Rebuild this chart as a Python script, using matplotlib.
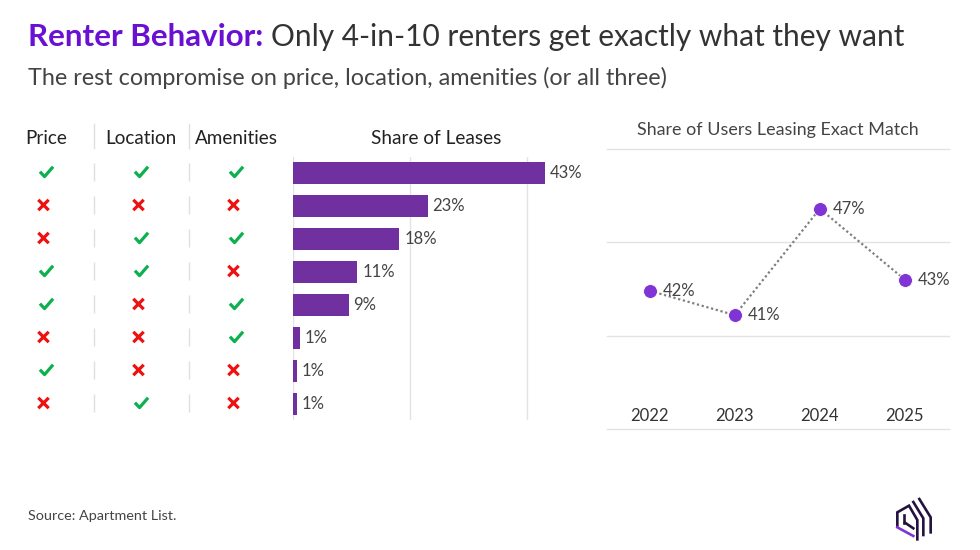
import matplotlib
matplotlib.use("Agg")
import matplotlib.pyplot as plt
from matplotlib.path import Path
from matplotlib.ticker import FixedLocator

plt.rcParams['font.family'] = ['Lato', 'DejaVu Sans']

# Data
criteria = ["Price", "Location", "Amenities"]
price = [1, 0, 0, 1, 1, 0, 1, 0]
location = [1, 0, 1, 1, 0, 0, 0, 1]
amenities = [1, 0, 1, 0, 1, 1, 0, 0]
share_values = [43, 23, 18.2, 11, 9.5, 1.2, 0.7, 0.7]
share_labels = ["43%", "23%", "18%", "11%", "9%", "1%", "1%", "1%"]
years = ["2022", "2023", "2024", "2025"]
exact_values = [42.4, 41.1, 46.8, 43.0]
exact_labels = ["42%", "41%", "47%", "43%"]

W, H = 980, 550
PURPLE = "#7030a0"
DOT = "#8034d6"
TXT = "#444444"
GRID = "#e3e3e3"
GREEN = "#0db04f"
RED = "#ee1111"

fig = plt.figure(figsize=(W / 100, H / 100), dpi=100, facecolor="white")


def box(x0, y0, x1, y1):
    """Axes from pixel box (top-left origin)."""
    return fig.add_axes([x0 / W, 1 - y1 / H, (x1 - x0) / W, (y1 - y0) / H])


# Overlay in pixels for titles, rules and logo
ov = box(0, 0, W, H)
ov.set_xlim(0, W)
ov.set_ylim(H, 0)
ov.axis("off")

t1 = ov.text(28, 37, "Renter Behavior:", fontsize=22.6, fontweight="bold",
             color="#6a10d2", va="center", ha="left")
fig.canvas.draw()
ext = t1.get_window_extent()
ov.text(ext.x1 + 8, 37, "Only 4-in-10 renters get exactly what they want",
        fontsize=21.5, color="#333333", va="center", ha="left")
ov.text(28, 78, "The rest compromise on price, location, amenities (or all three)",
        fontsize=16.8, color="#444444", va="center", ha="left")
ov.text(28, 515.5, "Source: Apartment List.", fontsize=10.4, color="#444444",
        va="center", ha="left")

# Check / cross matrix
row_y = list(range(len(price)))
ROW_LIM = (7 + 16 / 33, -0.5)
mx = box(0, 155.5, 292, 419)
mx.set_xlim(0, 292)
mx.set_ylim(*ROW_LIM)
mx.axis("off")
col_x = [45, 140, 235]
check = Path([(-1, 0.05), (-0.3, -0.7), (1, 0.8)], [Path.MOVETO, Path.LINETO, Path.LINETO])
cross_a = Path([(-1, -1), (1, 1), (-1, 1), (1, -1)],
               [Path.MOVETO, Path.LINETO, Path.MOVETO, Path.LINETO])
for cx, col in zip(col_x, [price, location, amenities]):
    yes = [r for r, v in zip(row_y, col) if v]
    no = [r for r, v in zip(row_y, col) if not v]
    mx.scatter([cx + 1.5] * len(yes), yes, marker=check, s=90, facecolors="none",
               edgecolors=GREEN, linewidths=2.3, clip_on=False)
    mx.scatter([cx - 1.5] * len(no), no, marker=cross_a, s=56, facecolors="none",
               edgecolors=RED, linewidths=2.3, clip_on=False)
for sx in (93.5, 188.5):
    mx.vlines([sx] * len(row_y), [r - 0.28 for r in row_y], [r + 0.28 for r in row_y],
              color="#e0e0e0", lw=1)
    ov.plot([sx, sx], [124, 148], color="#e0e0e0", lw=1)
for name, cx in zip(criteria, [46, 141, 236]):
    ov.text(cx, 138.5, name, fontsize=13.6, color="#222222", ha="center", va="center")

# Bars
bx = box(293, 156.5, 585, 420)
bx.barh(row_y, share_values, height=0.67, color=PURPLE, zorder=3)
bx.set_xlim(0, 292 / (117 / 20))
bx.set_ylim(*ROW_LIM)
for s in bx.spines.values():
    s.set_visible(False)
bx.xaxis.set_major_locator(FixedLocator([0, 20, 40]))
bx.grid(axis="x", color=GRID, lw=1, zorder=0)
bx.tick_params(length=0, labelbottom=False, labelleft=False)
bx.set_yticks([])
for r, v, lab in zip(row_y, share_values, share_labels):
    bx.annotate(lab, (v, r), xytext=(3.5, 0), textcoords="offset points",
                fontsize=12, color=TXT, va="center", ha="left", zorder=4)
ov.text(436, 138.5, "Share of Leases", fontsize=13.7, color="#222222", ha="center", va="center")

# Line chart
lx = box(607, 149, 949, 429)
xs = list(range(len(years)))
lx.plot(xs, exact_values, color="#7f7f7f", lw=1.6, ls=(0, (1, 1.2)), zorder=2)
lx.plot(xs, exact_values, ls="none", marker="o", ms=10, color=DOT, mec="white",
        mew=0.6, zorder=3, clip_on=False)
lx.set_xlim(-0.505, 3.52)
lx.set_ylim(35, 50)
lx.set_yticks([35, 40, 45, 50])
lx.set_xticks(xs)
lx.set_xticklabels(years, fontsize=12, color="#333333")
lx.tick_params(length=0, labelleft=False, pad=-15)
lx.grid(axis="y", color=GRID, lw=1, zorder=0, clip_on=False)
lx.grid(axis="x", visible=False)
for g in lx.get_ygridlines():
    g.set_clip_on(False)
for s in lx.spines.values():
    s.set_visible(False)
for x, v, lab in zip(xs, exact_values, exact_labels):
    lx.annotate(lab, (x, v), xytext=(9, 0), textcoords="offset points", fontsize=12,
                color=TXT, va="center", ha="left", zorder=4)
ov.text(778, 129.5, "Share of Users Leasing Exact Match", fontsize=12.9, color="#444444",
        ha="center", va="center")

# Logo (decoration, traced in pixels)
dark = "#24123f"
logo_strokes = [
    ([(133, 128), (133, 105)], dark),
    ([(112, 140), (112, 97), (147, 77), (172, 120), (172, 178)], dark),
    ([(160, 66), (190, 115), (190, 165)], dark),
    ([(178, 57), (212, 112), (212, 157)], dark),
    ([(135, 128), (160, 145)], dark),
    ([(112, 142), (160, 168)], "#8034d6"),
]
for pts, colr in logo_strokes:
    ov.plot([860 + p[0] / 3 for p in pts], [480 + p[1] / 3 for p in pts],
            color=colr, lw=1.9, solid_joinstyle="miter")

fig.savefig("out.png", dpi=100, facecolor="white")
